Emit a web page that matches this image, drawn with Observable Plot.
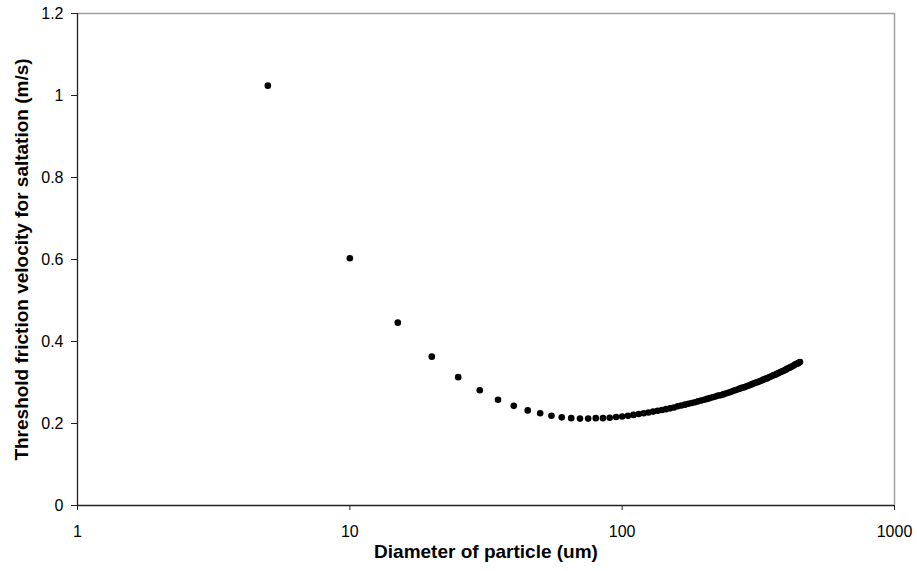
<!DOCTYPE html>
<html>
<head>
<meta charset="utf-8">
<script src="https://cdn.jsdelivr.net/npm/d3@7"></script>
<script src="https://cdn.jsdelivr.net/npm/@observablehq/plot@0.6"></script>
<style>
  html, body { margin: 0; padding: 0; background: #ffffff; }
  #chart svg { display: block; }
</style>
</head>
<body>
<div id="chart"></div>
<script>
// Particle diameters (um) and threshold friction velocities (m/s)
const diameters = [
  5, 10, 15, 20, 25, 30, 35, 40, 45, 50, 55, 60, 65, 70, 75, 80, 85, 90, 95,
  100, 105, 110, 115, 120, 125, 130, 135, 140, 145, 150, 155, 160, 165, 170, 175, 180, 185, 190, 195,
  200, 205, 210, 215, 220, 225, 230, 235, 240, 245, 250, 255, 260, 265, 270, 275, 280, 285, 290, 295,
  300, 305, 310, 315, 320, 325, 330, 335, 340, 345, 350, 355, 360, 365, 370, 375, 380, 385, 390, 395,
  400, 405, 410, 415, 420, 425, 430, 435, 440, 445, 450
];
const velocities = [
  1.024, 0.603, 0.446, 0.363, 0.313, 0.281, 0.258, 0.243, 0.232, 0.225, 0.219, 0.215, 0.213, 0.212, 0.212, 0.213, 0.213, 0.214, 0.216,
  0.217, 0.219, 0.221, 0.223, 0.225, 0.227, 0.229, 0.231, 0.233, 0.235, 0.237, 0.239, 0.242, 0.244, 0.246, 0.248, 0.250, 0.252, 0.254, 0.256,
  0.258, 0.260, 0.262, 0.264, 0.266, 0.268, 0.269, 0.271, 0.273, 0.275, 0.277, 0.279, 0.281, 0.283, 0.285, 0.287, 0.288, 0.290, 0.292, 0.294,
  0.296, 0.298, 0.300, 0.301, 0.303, 0.305, 0.307, 0.309, 0.310, 0.312, 0.314, 0.316, 0.318, 0.319, 0.321, 0.323, 0.325, 0.327, 0.328, 0.330,
  0.332, 0.334, 0.336, 0.337, 0.339, 0.341, 0.343, 0.345, 0.346, 0.348, 0.350
];
const xTicks = [1, 10, 100, 1000];
const yTicks = [0, 0.2, 0.4, 0.6, 0.8, 1, 1.2];
const xTitle = "Diameter of particle (um)";
const yTitle = "Threshold friction velocity for saltation (m/s)";

const data = diameters.map((d, i) => ({d, v: velocities[i]}));
const font = "'Liberation Sans', Arial, Helvetica, sans-serif";

const chart = Plot.plot({
  width: 917,
  height: 571,
  marginLeft: 77,
  marginRight: 23,
  marginTop: 13,
  marginBottom: 66,
  style: {background: "#ffffff", fontFamily: font, color: "#000"},
  x: {type: "log", domain: [xTicks[0], xTicks[xTicks.length - 1]]},
  y: {domain: [yTicks[0], yTicks[yTicks.length - 1]]},
  marks: [
    Plot.ruleY([yTicks[yTicks.length - 1]], {stroke: "#a0a0a0", strokeWidth: 1.5}),
    Plot.ruleX([xTicks[xTicks.length - 1]], {stroke: "#a0a0a0", strokeWidth: 1.5}),
    Plot.ruleY([yTicks[0]], {stroke: "#222", strokeWidth: 1.3}),
    Plot.ruleX([xTicks[0]], {stroke: "#222", strokeWidth: 1.3}),
    Plot.axisX({ticks: xTicks, tickFormat: d => String(d), tickSize: 5, tickPadding: 15,
                fontSize: 16, label: null, stroke: "#222"}),
    Plot.axisY({ticks: yTicks, tickFormat: d => String(d), tickSize: 6, tickPadding: 8,
                fontSize: 16, label: null, stroke: "#222"}),
    Plot.dot(data, {x: "d", y: "v", r: 3.3, fill: "#000", stroke: "none"}),
    Plot.text([xTitle], {frameAnchor: "bottom", dy: 52, fontSize: 19, fontWeight: "bold", fill: "#000"}),
    Plot.text([yTitle], {frameAnchor: "left", dx: -56, rotate: -90, textAnchor: "middle",
                         fontSize: 19, fontWeight: "bold", fill: "#000"})
  ]
});
document.getElementById("chart").appendChild(chart);
</script>
</body>
</html>
